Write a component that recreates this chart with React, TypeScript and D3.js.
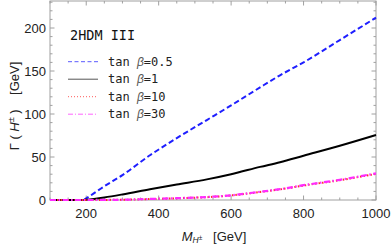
import React from "react";
import * as d3 from "d3";

const masses = [100, 150, 180, 192, 200, 250, 300, 376, 450, 533, 600, 680, 735, 800, 900, 1000];
const tan05 = [0, 0, 0, 0, 2, 16, 29, 52, 72, 93, 110, 131, 145, 160, 186, 212];
const tan1 = [0, 0, 0, 0, 0.3, 3, 6.5, 12.5, 18, 24, 30, 38.5, 44, 51.5, 63, 75.5];
const tan10 = [0, 0, 0, 0, 0, 0.1, 0.3, 1.1, 2, 3.3, 5.3, 9.3, 12.3, 16.8, 23, 30.4];
const tan30 = [0, 0, 0, 0, 0, 0.1, 0.3, 1.2, 2.1, 3.5, 5.5, 9.6, 12.6, 17.2, 23.5, 31];

const xMajor = [200, 400, 600, 800, 1000];
const yMajor = [0, 50, 100, 150, 200];
const legendLabels = ["0.5", "1", "10", "30"];

const W = 392, H = 246;
const L = 50, R = 376, T = 1, B = 200;

export default function App() {
  const x = d3.scaleLinear().domain([100, 1000]).range([L, R]);
  const y = d3.scaleLinear().domain([0, 231.4]).range([B, T]);
  const mk = (vals: number[]) =>
    d3.line<number>().x((_, i) => x(masses[i])).y((v) => y(v)).curve(d3.curveMonotoneX)(vals) || "";

  const xMinor = d3.range(100, 1001, 50);
  const yMinor = d3.range(0, 231, 10);
  const frame = "#a0a0a0";
  const series = [
    { d: tan05, color: "#1f1fff", dash: "5.5,3", w: 2, lc: "#5a5aff", ldash: "4,2.5" },
    { d: tan1, color: "#000", dash: "", w: 2, lc: "#555", ldash: "" },
    { d: tan10, color: "#ff3030", dash: "1.5,2", w: 2, lc: "#ff5a5a", ldash: "1,2" },
    { d: tan30, color: "#ff2bff", dash: "6,2.5,1.5,2.5", w: 2.2, lc: "#ff66ff", ldash: "5,2,1,2" },
  ];
  const sans = "'Liberation Sans', Arial, sans-serif";
  const mono = "'DejaVu Sans Mono', monospace";

  return (
    <svg width={W} height={H} style={{ position: "absolute", left: 0, top: 0 }}>
      <rect x={0} y={0} width={W} height={H} fill="#fff" />
      <rect x={L} y={T} width={R - L} height={B - T} fill="none" stroke={frame} strokeWidth={1} />
      {xMinor.map((v) => {
        const major = xMajor.includes(v);
        const len = major ? 4.5 : 2.5;
        return (
          <g key={"xt" + v}>
            <line x1={x(v)} x2={x(v)} y1={B} y2={B - len} stroke={frame} />
            <line x1={x(v)} x2={x(v)} y1={T} y2={T + len} stroke={frame} />
          </g>
        );
      })}
      {yMinor.map((v) => {
        const major = yMajor.includes(v);
        const len = major ? 4.5 : 2.5;
        return (
          <g key={"yt" + v}>
            <line x1={L} x2={L + len} y1={y(v)} y2={y(v)} stroke={frame} />
            <line x1={R} x2={R - len} y1={y(v)} y2={y(v)} stroke={frame} />
          </g>
        );
      })}
      {xMajor.map((v) => (
        <text key={"xl" + v} x={x(v)} y={218} textAnchor="middle" fontFamily={sans} fontSize={13} fill="#222">
          {v}
        </text>
      ))}
      {yMajor.map((v) => (
        <text key={"yl" + v} x={46} y={y(v) + 4.6} textAnchor="end" fontFamily={sans} fontSize={13} fill="#222">
          {v}
        </text>
      ))}
      {series.map((s, i) => (
        <path key={"c" + i} d={mk(s.d)} fill="none" stroke={s.color} strokeWidth={s.w} strokeDasharray={s.dash || undefined} />
      ))}
      <text x={70} y={40} fontFamily={mono} fontSize={13.5} fill="#111">2HDM III</text>
      {series.map((s, i) => {
        const by = 65.7 + i * 17.5;
        return (
          <g key={"lg" + i}>
            <line x1={68} x2={98} y1={by - 4} y2={by - 4} stroke={s.lc} strokeWidth={1} strokeDasharray={s.ldash || undefined} />
            <text x={108} y={by} fontFamily={mono} fontSize={12} fill="#222">
              tan <tspan fontFamily={sans} fontStyle="italic" fill="#555">β</tspan>={legendLabels[i]}
            </text>
          </g>
        );
      })}
      <text x={214} y={241} textAnchor="middle" fontFamily={sans} fontSize={13} fill="#222" style={{ whiteSpace: "pre" }}>
        <tspan fontStyle="italic">M</tspan>
        <tspan fontSize={8.5} fontStyle="italic" dy={2}>H</tspan>
        <tspan fontSize={6.5} dy={-3}>±</tspan>
        <tspan dy={1}>{"   [GeV]"}</tspan>
      </text>
      <text transform="translate(19,106) rotate(-90)" textAnchor="middle" fontFamily={sans} fontSize={13} fill="#222" style={{ whiteSpace: "pre" }}>
        <tspan>{"Γ ( "}</tspan>
        <tspan fontStyle="italic">H</tspan>
        <tspan fontSize={9} dy={-5}>±</tspan>
        <tspan dy={5}>{" )    [GeV]"}</tspan>
      </text>
    </svg>
  );
}
